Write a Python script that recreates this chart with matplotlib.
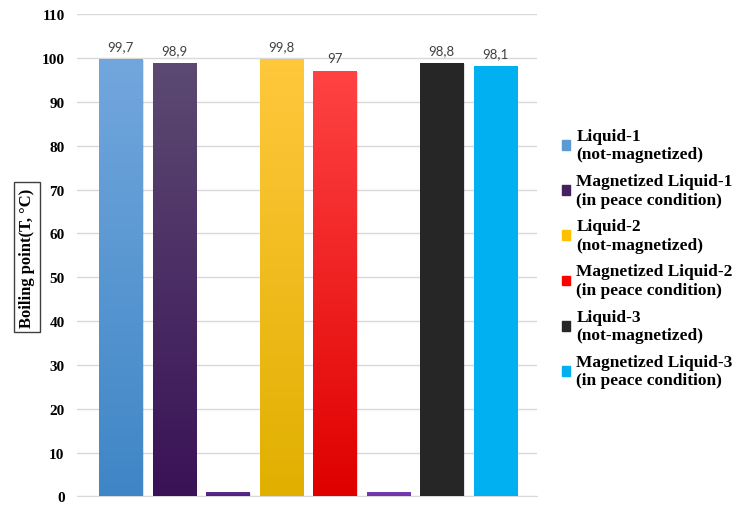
import matplotlib
matplotlib.use("Agg")
import matplotlib.pyplot as plt
import matplotlib.colors as mcolors
import numpy as np

labels = ['Liquid-1\n(not-magnetized)', 'Magnetized Liquid-1\n(in peace condition)',
          None,
          'Liquid-2\n(not-magnetized)', 'Magnetized Liquid-2\n(in peace condition)',
          None,
          'Liquid-3\n(not-magnetized)', 'Magnetized Liquid-3\n(in peace condition)']
values = [99.7, 98.9, 1.0, 99.8, 97.0, 1.0, 98.8, 98.1]
value_text = ['99,7', '98,9', None, '99,8', '97', None, '98,8', '98,1']
# (top colour, bottom colour) of each bar's gradient
top_colors = ['#72a7dd', '#5c4a72', '#5b2d8c', '#ffc83d', '#ff4343', '#7a3db3', '#272727', '#00b0f0']
bot_colors = ['#3f86c6', '#3a1257', '#4e2380', '#e0b000', '#df0000', '#6f35a8', '#262626', '#00b0f0']
legend_colors = ['#5b9bd5', '#45205f', None, '#ffc000', '#ff0000', None, '#262626', '#00b0f0']

yticks = [0, 10, 20, 30, 40, 50, 60, 70, 80, 90, 100, 110]

serif = 'Liberation Serif'

fig = plt.figure(figsize=(7.37, 5.06), dpi=100)
ax = fig.add_axes([0.1045, 0.017, 0.624, 0.953])

x = np.arange(len(values))
width = 0.81
bars = ax.bar(x, values, width=width, color=[c if c else t for c, t in zip(legend_colors, top_colors)],
              zorder=3)

# soft shadow + gradient fill for each bar
grad = np.linspace(0, 1, 256).reshape(-1, 1)
for i, b in enumerate(bars):
    x0, w, h = b.get_x(), b.get_width(), b.get_height()
    sh = plt.Rectangle((x0 + 0.025, 0), w, h - 0.15, facecolor='#000000', alpha=0.12,
                       edgecolor='none', zorder=2)
    ax.add_patch(sh)
    cmap = mcolors.LinearSegmentedColormap.from_list('g%d' % i, [bot_colors[i], top_colors[i]])
    im = ax.imshow(grad, cmap=cmap, extent=[x0, x0 + w, 0, h], origin='lower',
                   aspect='auto', zorder=4)
    im.set_clip_path(b)
    if value_text[i]:
        ax.annotate(value_text[i], (x[i], h), xytext=(0, 5), textcoords='offset points',
                    ha='center', va='bottom', fontsize=9.5, color='#404040', family='Lato')

ax.set_xlim(-0.82, 7.78)
ax.set_ylim(0, 110)
ax.set_yticks(yticks)
ax.set_yticklabels([str(t) for t in yticks], fontfamily=serif, fontweight='bold', fontsize=11)
ax.set_xticks([])
ax.tick_params(axis='y', length=0, pad=9)
ax.grid(axis='y', color='#d9d9d9', linewidth=1, zorder=0)
for s in ['top', 'right', 'left']:
    ax.spines[s].set_visible(False)
ax.spines['bottom'].set_color('#d9d9d9')

fig.text(0.036, 0.49, 'Boiling point(T, \u00b0C)', rotation=90, ha='center', va='center',
         fontfamily=serif, fontweight='bold', fontsize=12,
         bbox=dict(boxstyle='square,pad=0.3', facecolor='white', edgecolor='#404040', linewidth=1))

handles = [plt.Rectangle((0, 0), 1, 1, color=c) for c in legend_colors if c]
leg_labels = [l for l in labels if l]
fig.legend(handles, leg_labels, loc='center left', bbox_to_anchor=(0.741, 0.488),
           frameon=False, prop=dict(family=serif, weight='bold', size=12.5),
           handlelength=0.5, handleheight=0.5, handletextpad=0.35, labelspacing=0.62)

plt.savefig('out.png', dpi=100)
